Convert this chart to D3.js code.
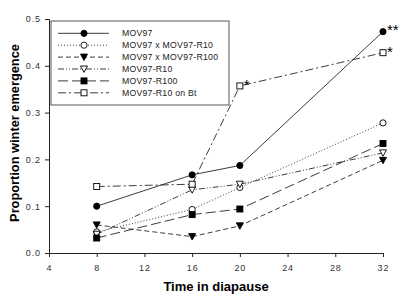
<!DOCTYPE html>
<html>
<head>
<meta charset="utf-8">
<script src="https://cdn.jsdelivr.net/npm/d3@7"></script>
<style>
  body { margin: 0; background: #fff; }
  svg { display: block; font-family: Arial, "Liberation Sans", sans-serif; }
</style>
</head>
<body>
<div class="container"></div>
<script>
const w = 407, h = 298;
const margin = { top: 19, bottom: 45, left: 49, right: 24 };

// weeks in diapause
const times = [8, 16, 20, 32];
const xTicks = [4, 8, 12, 16, 20, 24, 28, 32];
const yTicks = [0, 0.1, 0.2, 0.3, 0.4, 0.5];

const names = ["MOV97", "MOV97 x MOV97-R10", "MOV97 x MOV97-R100", "MOV97-R10", "MOV97-R100", "MOV97-R10 on Bt"];
const mov97      = [0.100, 0.167, 0.187, 0.473];
const movXR10    = [0.045, 0.093, 0.140, 0.278];
const movXR100   = [0.060, 0.035, 0.058, 0.198];
const r10        = [0.040, 0.135, 0.147, 0.214];
const r100       = [0.032, 0.082, 0.094, 0.234];
const r10Bt      = [0.142, 0.147, 0.357, 0.428];

// significance marks
const stars = [
  { t: 32, v: 0.473, label: "**" },
  { t: 32, v: 0.428, label: "*" },
  { t: 20, v: 0.357, label: "*" }
];

const styles = [
  { dash: null,            marker: "circle",   fill: "#000" },
  { dash: "1,2",           marker: "circle",   fill: "#fff" },
  { dash: "5,3",           marker: "triangle", fill: "#000" },
  { dash: "6,2,1,2,1,2",   marker: "triangle", fill: "#fff" },
  { dash: "10,4",          marker: "square",   fill: "#000" },
  { dash: "8,3,2,3",       marker: "square",   fill: "#fff" }
];
const allValues = [mov97, movXR10, movXR100, r10, r100, r10Bt];
const series = names.map((n, i) => ({
  name: n,
  style: styles[i],
  points: times.map((t, j) => ({ t, v: allValues[i][j] }))
}));

const x = d3.scaleLinear().domain([4, 32]).range([margin.left, w - margin.right]);
const y = d3.scaleLinear().domain([0, 0.5]).range([h - margin.bottom, margin.top]);

const svg = d3.select(".container").append("svg")
  .attr("width", w).attr("height", h)
  .attr("viewBox", [0, 0, w, h]);

// axes
const xAxis = svg.append("g")
  .attr("transform", `translate(0, ${y(0)})`)
  .call(d3.axisBottom(x).tickValues(xTicks).tickSize(4).tickPadding(8).tickFormat(d3.format("d")));
const yAxis = svg.append("g")
  .attr("transform", `translate(${x(4)}, 0)`)
  .call(d3.axisLeft(y).tickValues(yTicks).tickSize(4).tickPadding(4).tickFormat(d3.format(".1f")));
[xAxis, yAxis].forEach(a => {
  a.select(".domain").attr("stroke", "#222").attr("stroke-width", 1);
  a.selectAll(".tick line").attr("stroke", "#222");
  a.selectAll(".tick text")
    .attr("fill", "#333")
    .style("font-size", "9px")
    .style("letter-spacing", "0.9px")
    .style("font-family", "Arial, 'Liberation Sans', sans-serif");
});

svg.append("text")
  .attr("x", (x(4) + x(32)) / 2)
  .attr("y", 291)
  .attr("text-anchor", "middle")
  .style("font-size", "13px")
  .style("font-weight", "bold")
  .text("Time in diapause");

svg.append("text")
  .attr("transform", `translate(19, ${(y(0) + y(0.5)) / 2 - 3}) rotate(-90)`)
  .attr("text-anchor", "middle")
  .style("font-size", "12.8px")
  .style("font-weight", "bold")
  .text("Proportion winter emergence");

// markers
function drawMarker(g, style) {
  if (style.marker === "circle") {
    g.append("circle").attr("r", 3.1);
  } else if (style.marker === "square") {
    g.append("rect").attr("x", -3).attr("y", -3).attr("width", 6).attr("height", 6);
  } else {
    g.append("path").attr("d", "M-3.5,-3 L3.5,-3 L0,3.4 Z");
  }
  g.selectAll("*")
    .attr("fill", style.fill)
    .attr("stroke", "#000")
    .attr("stroke-width", 0.9);
}

const line = d3.line()
  .x(d => x(d.t))
  .y(d => y(d.v));

const lines = svg.append("g");
series.forEach(s => {
  lines.append("path")
    .datum(s.points)
    .attr("fill", "none")
    .attr("stroke", "#1a1a1a")
    .attr("stroke-width", 0.85)
    .attr("stroke-dasharray", s.style.dash)
    .attr("d", line);
});
series.forEach(s => {
  s.points.forEach(p => {
    const g = svg.append("g").attr("transform", `translate(${x(p.t)}, ${y(p.v)})`);
    drawMarker(g, s.style);
  });
});

svg.selectAll(".star")
  .data(stars)
  .join("text")
  .attr("class", "star")
  .attr("x", d => x(d.t) + 4)
  .attr("y", d => y(d.v) + (d.label === "**" ? 3 : 4))
  .style("font-size", "15px")
  .text(d => d.label);

// legend
const legend = svg.append("g").attr("transform", "translate(51, 21)");
legend.append("rect")
  .attr("width", 178).attr("height", 84)
  .attr("fill", "#fff")
  .attr("stroke", "#444")
  .attr("stroke-width", 0.9);
series.forEach((s, i) => {
  const row = legend.append("g").attr("transform", `translate(0, ${12.3 + i * 11.9})`);
  row.append("line")
    .attr("x1", 7).attr("x2", 58)
    .attr("stroke", "#1a1a1a")
    .attr("stroke-width", 0.85)
    .attr("stroke-dasharray", s.style.dash);
  drawMarker(row.append("g").attr("transform", "translate(33, 0)"), s.style);
  row.append("text")
    .attr("x", 71).attr("y", 3)
    .attr("fill", "#222")
    .style("font-size", "8.7px")
    .style("letter-spacing", "0.25px")
    .text(s.name);
});
</script>
</body>
</html>
